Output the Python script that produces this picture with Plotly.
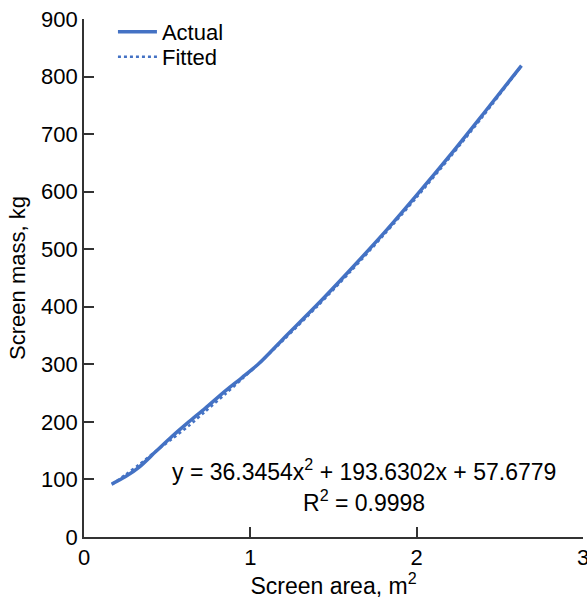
import plotly.graph_objects as go

# Data
area_actual = [0.167, 0.25, 0.33, 0.43, 0.53, 0.63, 0.73, 0.85, 0.95, 1.05, 1.20, 1.40, 1.60, 1.80, 2.00, 2.20, 2.40, 2.63]
mass_actual = [92, 105, 121, 148, 175, 200, 224, 254, 277, 301, 345, 403, 464, 527, 594, 663, 735, 819]

area_fit = [0.167, 0.25, 0.33, 0.43, 0.53, 0.63, 0.73, 0.85, 0.95, 1.05, 1.20, 1.40, 1.60, 1.80, 2.00, 2.20, 2.40, 2.63]
mass_fit = [91.0, 108.4, 125.5, 148.7, 170.5, 193.1, 218.4, 248.5, 274.4, 301.1, 342.4, 400.0, 460.5, 524.0, 590.3, 659.6, 731.7, 818.3]

x_ticks = [0, 1, 2, 3]
y_ticks = [0, 100, 200, 300, 400, 500, 600, 700, 800, 900]

equation = "y = 36.3454x<sup>2</sup> + 193.6302x + 57.6779"
r_squared = "R<sup>2</sup> = 0.9998"

BLUE = "#4472C4"
AXIS = "#333333"
FONT = "Liberation Sans, Arial, sans-serif"

fig = go.Figure()
fig.add_trace(go.Scatter(x=area_actual, y=mass_actual, mode="lines", name="Actual", legend="legend",
                         line=dict(color=BLUE, width=3.5, shape="spline", smoothing=0.8)))
fig.add_trace(go.Scatter(x=area_fit, y=mass_fit, mode="lines", name="Fitted", legend="legend2",
                         line=dict(color=BLUE, width=2.5, dash="dot", shape="spline", smoothing=0.8)))

fig.add_annotation(x=1.684, y=116, xref="x", yref="y", text=equation, showarrow=False,
                   yanchor="middle", font=dict(size=23, color="#000", family=FONT))
fig.add_annotation(x=1.684, y=62, xref="x", yref="y", text=r_squared, showarrow=False,
                   yanchor="middle", font=dict(size=23, color="#000", family=FONT))

axis_common = dict(showgrid=False, zeroline=False, showline=True, linecolor=AXIS,
                   linewidth=1.6, ticks="inside", ticklen=10, tickwidth=1.6, tickcolor=AXIS,
                   tickfont=dict(size=22, color="#000", family=FONT), automargin=False,
                   ticklabeloverflow="allow")

fig.update_xaxes(range=[0, 3], tickvals=x_ticks, ticktext=[str(v) for v in x_ticks],
                 title=dict(text="Screen area, m<sup>2</sup>", font=dict(size=23, color="#000", family=FONT),
                            standoff=10),
                 **axis_common)
fig.update_yaxes(range=[0, 900], tickvals=y_ticks, ticktext=[str(v) for v in y_ticks],
                 ticklabelstandoff=0,
                 title=dict(text="Screen mass, kg", font=dict(size=22, color="#000", family=FONT),
                            standoff=9),
                 **axis_common)

legend_common = dict(xanchor="left", yanchor="middle", bgcolor="rgba(0,0,0,0)",
                     font=dict(size=22, color="#000", family=FONT), itemwidth=39)

fig.update_layout(
    width=587, height=599,
    margin=dict(l=84, r=4, t=19, b=62),
    paper_bgcolor="white", plot_bgcolor="white",
    font=dict(family=FONT, size=22, color="#000"),
    legend=dict(x=0.058, y=1 - (32 - 19) / 518, **legend_common),
    legend2=dict(x=0.058, y=1 - (57 - 19) / 518, **legend_common),
    showlegend=True,
)

fig.write_html("out.html", config={"displayModeBar": False},
               post_script="document.documentElement.style.margin='0';document.body.style.margin='0';")
